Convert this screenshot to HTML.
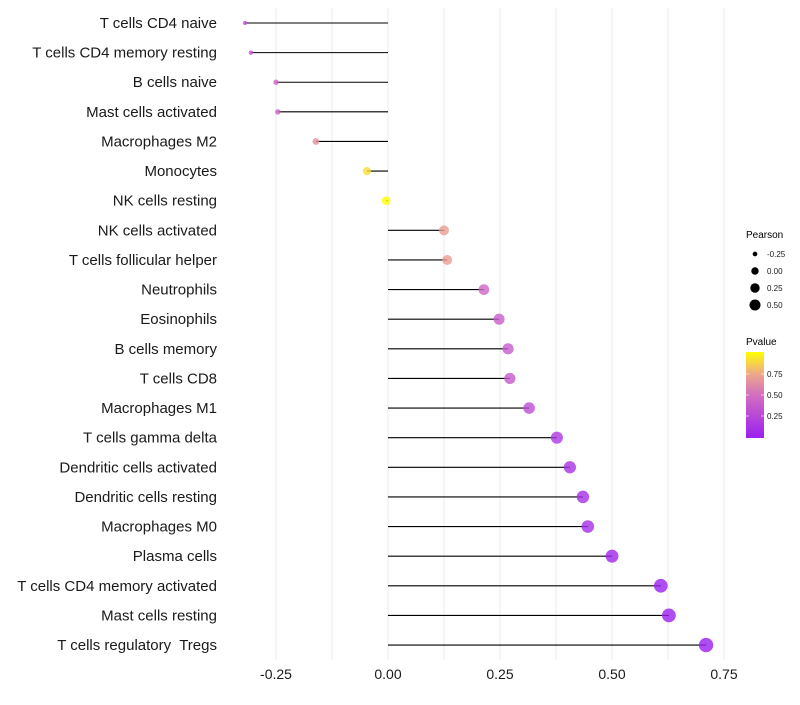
<!DOCTYPE html>
<html><head><meta charset="utf-8"><style>
body{margin:0;background:#fff;font-family:"Liberation Sans",sans-serif}
text{white-space:pre}
</style></head><body>
<svg id="chart" width="800" height="700"></svg>
<script>
const categories=["T cells CD4 naive","T cells CD4 memory resting","B cells naive","Mast cells activated","Macrophages M2","Monocytes","NK cells resting","NK cells activated","T cells follicular helper","Neutrophils","Eosinophils","B cells memory","T cells CD8","Macrophages M1","T cells gamma delta","Dendritic cells activated","Dendritic cells resting","Macrophages M0","Plasma cells","T cells CD4 memory activated","Mast cells resting","T cells regulatory  Tregs"];
const pearson=[-0.319,-0.306,-0.25,-0.246,-0.161,-0.047,-0.004,0.125,0.132,0.214,0.248,0.268,0.272,0.315,0.377,0.406,0.435,0.446,0.5,0.609,0.627,0.71];
const pvalue=[0.3,0.35,0.45,0.45,0.65,0.9,1.0,0.7,0.7,0.45,0.4,0.38,0.37,0.3,0.15,0.12,0.1,0.09,0.04,0.01,0.01,0.0];
const xTicks=[-0.25,0,0.25,0.5,0.75];
const xTickLabels=["-0.25","0.00","0.25","0.50","0.75"];
const sizeLegend=[-0.25,0,0.25,0.5];
const sizeLegendLabels=["-0.25","0.00","0.25","0.50"];
const colorLegend=[0.25,0.5,0.75];
const colorLegendLabels=["0.25","0.50","0.75"];

const NS="http://www.w3.org/2000/svg";
const svg=document.getElementById('chart');
function el(t,a,p){const e=document.createElementNS(NS,t);for(const k in a)e.setAttribute(k,a[k]);(p||svg).appendChild(e);return e;}
const xs=v=>388+v*448;
const ys=i=>23+i*29.62;
const rs=v=>Math.sqrt(Math.max(2,19+46*v));
const stops=[[0,[155,31,240]],[0.5,[211,110,192]],[0.75,[238,170,136]],[1,[255,255,0]]];
function col(p){for(let i=0;i<stops.length-1;i++){const a=stops[i],b=stops[i+1];if(p<=b[0]){const t=(p-a[0])/(b[0]-a[0]);const c=a[1].map((x,j)=>Math.round(x+(b[1][j]-x)*t));return `rgb(${c})`;}}return 'rgb(255,255,0)';}

for(let v=-0.25;v<=0.75001;v+=0.125){
 const g=el('line',{x1:xs(v),x2:xs(v),y1:8,y2:660,stroke:'#ebebeb','stroke-width':1});
 
 
}
xTicks.forEach((v,i)=>{
 const t=el('text',{x:xs(v),y:679,'text-anchor':'middle','font-size':14,fill:'#1a1a1a'});
 t.textContent=xTickLabels[i];
 
 
});
categories.forEach((c,i)=>{
 const y=ys(i);
 const t=el('text',{x:217,y:y+5,'text-anchor':'end','font-size':15,fill:'#1a1a1a'});
 t.textContent=c;
 
 
 const l=el('line',{x1:xs(0),x2:xs(pearson[i]),y1:y,y2:y,stroke:'#000','stroke-width':1.1});
 
 
 const d=el('circle',{cx:xs(pearson[i]),cy:y,r:rs(pearson[i]),fill:col(pvalue[i]),'fill-opacity':0.8});
 
 
});
const lt=el('text',{x:746,y:238,'font-size':10,fill:'#000'});lt.textContent='Pearson';


sizeLegend.forEach((v,i)=>{
 const y=254+i*17;
 const c=el('circle',{cx:755,cy:y,r:rs(v)*0.85,fill:'#000'});
 
 
 const t=el('text',{x:767,y:y+3,'font-size':8,fill:'#1a1a1a'});t.textContent=sizeLegendLabels[i];
 
 
});
const ct=el('text',{x:746,y:345,'font-size':10,fill:'#000'});ct.textContent='Pvalue';


const defs=el('defs',{});
const gr=el('linearGradient',{id:'pg',x1:0,y1:1,x2:0,y2:0},defs);
[0,0.25,0.5,0.75,1].forEach(p=>el('stop',{offset:p,'stop-color':col(p)},gr));
const bar=el('rect',{x:746,y:352,width:18,height:86,fill:'url(#pg)'});


const cy=p=>437-p*84;
colorLegend.forEach((p,i)=>{
 el('line',{x1:746,x2:749,y1:cy(p),y2:cy(p),stroke:'#fff','stroke-width':0.6});
 el('line',{x1:761,x2:764,y1:cy(p),y2:cy(p),stroke:'#fff','stroke-width':0.6});
 const t=el('text',{x:767,y:cy(p)+3,'font-size':8,fill:'#1a1a1a'});t.textContent=colorLegendLabels[i];
 
 
});
</script>
</body></html>
